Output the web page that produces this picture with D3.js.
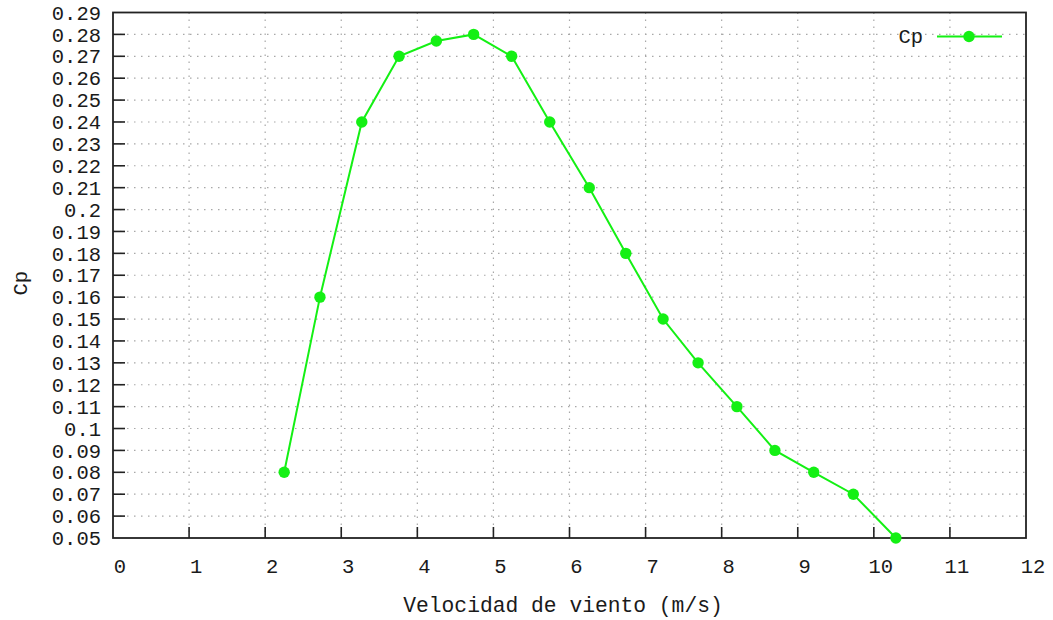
<!DOCTYPE html>
<html>
<head>
<meta charset="utf-8">
<script src="https://cdn.jsdelivr.net/npm/d3@7"></script>
<style>
  html, body { margin: 0; padding: 0; background: #fff; }
  svg text { font-family: "Liberation Mono", "Courier New", monospace; fill: #1a1a1a; }
</style>
</head>
<body>
<svg id="chart" width="1053" height="620"></svg>
<script>
// Wind speed (m/s) and power coefficient Cp
const windSpeed = [2.25, 2.72, 3.27, 3.76, 4.25, 4.74, 5.24, 5.74, 6.26, 6.74, 7.23, 7.69, 8.20, 8.70, 9.21, 9.73, 10.29];
const cpValues  = [0.08, 0.16, 0.24, 0.27, 0.277, 0.28, 0.27, 0.24, 0.21, 0.18, 0.15, 0.13, 0.11, 0.09, 0.08, 0.07, 0.05];
const xTicks = d3.range(0, 13, 1);
const yTicks = d3.range(5, 30, 1).map(v => v / 100);
const seriesName = "Cp";
const xTitle = "Velocidad de viento (m/s)";
const yTitle = "Cp";

const svg = d3.select("#chart");
const plotLeft = 113, plotRight = 1026, plotTop = 12.5, plotBottom = 538;

const x = d3.scaleLinear().domain([0, 12]).range([plotLeft, plotRight]);
const y = d3.scaleLinear().domain([0.05, 0.29]).range([plotBottom, plotTop]);

const fontSize = 20.5;

// grid
const grid = svg.append("g");
grid.selectAll("line.h").data(yTicks.slice(1, -1)).join("line")
  .attr("x1", plotLeft).attr("x2", plotRight)
  .attr("y1", d => y(d)).attr("y2", d => y(d))
  .attr("stroke", "#a8a8a8").attr("stroke-width", 1.2)
  .attr("stroke-dasharray", "1.5,5.5");
grid.selectAll("line.v").data(xTicks.slice(1, -1)).join("line")
  .attr("y1", plotTop).attr("y2", plotBottom)
  .attr("x1", d => x(d)).attr("x2", d => x(d))
  .attr("stroke", "#a8a8a8").attr("stroke-width", 1.2)
  .attr("stroke-dasharray", "1.5,5.5");

// inward ticks
const ticks = svg.append("g").attr("stroke", "#222").attr("stroke-width", 1.6);
ticks.selectAll("line.yt").data(yTicks.slice(1, -1)).join("line")
  .attr("x1", plotLeft).attr("x2", plotLeft + 12)
  .attr("y1", d => y(d)).attr("y2", d => y(d));
ticks.selectAll("line.xt").data(xTicks.slice(1, -1)).join("line")
  .attr("y1", plotBottom).attr("y2", plotBottom - 11)
  .attr("x1", d => x(d)).attr("x2", d => x(d));

// frame
svg.append("rect")
  .attr("x", plotLeft).attr("y", plotTop)
  .attr("width", plotRight - plotLeft).attr("height", plotBottom - plotTop)
  .attr("fill", "none").attr("stroke", "#222").attr("stroke-width", 1.8);

// tick labels
svg.append("g").selectAll("text").data(yTicks).join("text")
  .attr("x", 101).attr("y", d => y(d))
  .attr("dy", "0.35em")
  .attr("text-anchor", "end")
  .attr("font-size", fontSize)
  .text(d => String(+d.toFixed(2)));
svg.append("g").selectAll("text").data(xTicks).join("text")
  .attr("x", d => x(d) + 7).attr("y", 573)
  .attr("text-anchor", "middle")
  .attr("font-size", fontSize)
  .text(d => d);

// axis titles
svg.append("text")
  .attr("x", 563).attr("y", 612)
  .attr("text-anchor", "middle")
  .attr("font-size", 21.3)
  .text(xTitle);
svg.append("text")
  .attr("transform", `translate(27,${(plotTop + plotBottom) / 2 + 8}) rotate(-90)`)
  .attr("text-anchor", "middle")
  .attr("font-size", fontSize)
  .text(yTitle);

// series
const green = "#14f014";
const pts = windSpeed.map((v, i) => [v, cpValues[i]]);
svg.append("path")
  .datum(pts)
  .attr("fill", "none")
  .attr("stroke", green)
  .attr("stroke-width", 2)
  .attr("d", d3.line().x(d => x(d[0])).y(d => y(d[1])));
svg.append("g").selectAll("circle").data(pts).join("circle")
  .attr("cx", d => x(d[0])).attr("cy", d => y(d[1]))
  .attr("r", 5.7).attr("fill", green);

// legend
svg.append("text")
  .attr("x", 923).attr("y", 36)
  .attr("dy", "0.35em")
  .attr("text-anchor", "end")
  .attr("font-size", fontSize)
  .text(seriesName);
svg.append("line")
  .attr("x1", 937).attr("x2", 1002).attr("y1", 36.5).attr("y2", 36.5)
  .attr("stroke", green).attr("stroke-width", 2);
svg.append("circle").attr("cx", 969).attr("cy", 36.5).attr("r", 5.7).attr("fill", green);
</script>
</body>
</html>
